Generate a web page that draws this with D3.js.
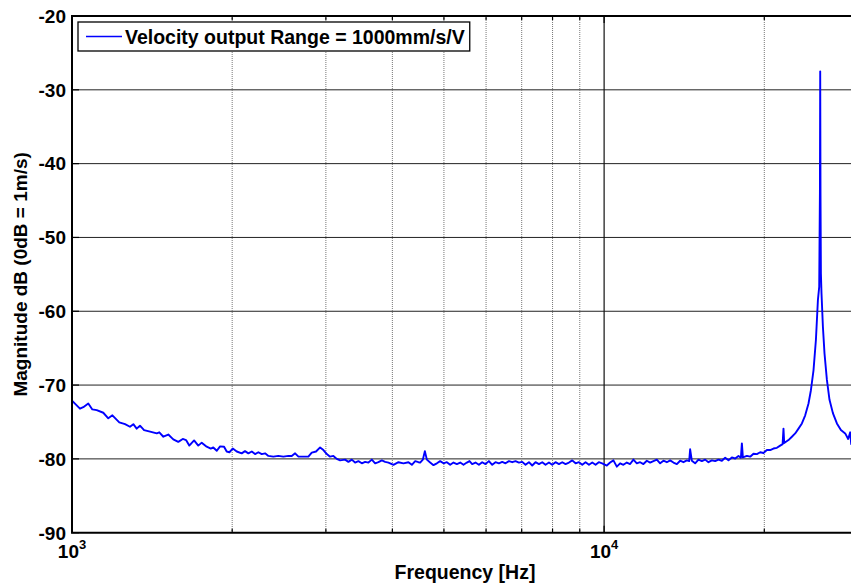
<!DOCTYPE html>
<html>
<head>
<meta charset="utf-8">
<script src="https://cdn.jsdelivr.net/npm/d3@7"></script>
<style>
  body { margin: 0; background: #fff; }
  text { font-family: "Liberation Sans", Arial, sans-serif; font-weight: bold; }
</style>
</head>
<body>
<div id="chart"></div>
<script>
// Data
const freqHz = [
  1000, 1035, 1050, 1073, 1092, 1113, 1145, 1170, 1191, 1227, 1258, 1285, 1304, 1323, 1342, 1366,
  1402, 1443, 1459, 1485, 1517, 1550, 1584, 1615, 1638, 1661, 1696, 1727, 1753, 1791, 1823, 1843,
  1871, 1898, 1931, 1953, 1976, 2005, 2040, 2084, 2114, 2145, 2177, 2208, 2240, 2273, 2306, 2339,
  2390, 2442, 2496, 2551, 2588, 2626, 2664, 2722, 2781, 2822, 2875, 2926, 2968, 3012, 3055, 3099,
  3145, 3190, 3260, 3307, 3356, 3404, 3453, 3505, 3555, 3606, 3660, 3713, 3766, 3822, 3877, 3933,
  4019, 4107, 4197, 4288, 4352, 4415, 4478, 4511, 4564, 4604, 4644, 4711, 4779, 4850, 4919, 4990,
  5064, 5137, 5211, 5288, 5365, 5442, 5522, 5585, 5650, 5732, 5817, 5900, 5985, 6074, 6162, 6250,
  6343, 6434, 6527, 6624, 6719, 6816, 6917, 7016, 7117, 7223, 7326, 7432, 7543, 7651, 7761, 7876,
  7989, 8104, 8225, 8343, 8463, 8589, 8712, 8838, 8968, 9098, 9229, 9366, 9500, 9637, 9773, 9914,
  10118, 10263, 10411, 10565, 10717, 10871, 11032, 11191, 11352, 11520, 11686, 11854, 12030, 12203,
  12378, 12562, 12743, 12927, 13118, 13307, 13498, 13698, 13895, 14095, 14304, 14450, 14510, 14617,
  14827, 15041, 15264, 15484, 15707, 15940, 16169, 16402, 16645, 16885, 17128, 17382, 17632, 17886,
  18073, 18151, 18230, 18548, 18815, 19085, 19368, 19647, 19929, 20225, 20516, 20811, 21119, 21423,
  21650, 21731, 21800, 22207, 22536, 22861, 23190, 23534, 23873, 24216, 24469, 24746, 25004, 25221,
  25364, 25441, 25474, 25507, 25551, 25618, 25773, 25952, 26223, 26520, 26912, 27382, 27860, 28383,
  28750, 29005, 29131, 30000
];
const magDb = [
  -72.1, -73.2, -73.0, -72.5, -73.3, -73.4, -73.75, -74.5, -74.1, -75.05, -75.3, -75.65, -75.3, -75.9, -75.5, -76.1,
  -76.3, -76.55, -76.4, -77.0, -76.7, -77.35, -77.7, -77.3, -77.45, -78.2, -77.5, -78.2, -77.8, -78.35, -78.6, -78.45,
  -78.9, -78.3, -78.35, -79.0, -79.1, -78.6, -79.0, -79.25, -78.95, -79.25, -79.0, -79.35, -79.1, -79.35, -79.25, -79.6,
  -79.7, -79.6, -79.7, -79.6, -79.6, -79.25, -79.7, -79.7, -79.7, -79.15, -79.0, -78.45, -78.8, -79.35, -79.7, -79.6,
  -80.0, -80.2, -80.1, -80.4, -80.1, -80.5, -80.3, -80.6, -80.4, -80.5, -80.1, -80.6, -80.45, -80.2, -80.4, -80.5,
  -80.8, -80.45, -80.6, -80.45, -80.8, -80.3, -80.45, -80.5, -80.1, -78.95, -80.1, -80.5, -80.85, -80.6, -80.3, -80.6,
  -80.45, -80.8, -80.5, -80.7, -80.5, -80.8, -80.5, -80.3, -80.7, -80.5, -80.8, -80.45, -80.7, -80.3, -80.8, -80.45,
  -80.6, -80.4, -80.6, -80.3, -80.45, -80.3, -80.5, -80.4, -80.8, -80.45, -80.9, -80.45, -80.7, -80.45, -80.8, -80.5,
  -80.8, -80.45, -80.7, -80.45, -80.7, -80.5, -80.2, -80.6, -80.45, -80.8, -80.45, -80.8, -80.5, -80.8, -80.45, -80.6,
  -80.9, -80.5, -80.2, -81.05, -80.6, -80.8, -80.5, -80.7, -80.1, -80.6, -80.45, -80.7, -80.25, -80.5,
  -80.3, -80.1, -80.6, -80.25, -80.45, -80.2, -80.5, -80.7, -80.25, -80.45, -80.2, -80.3, -78.7, -80.25,
  -80.6, -80.1, -80.3, -80.1, -80.45, -80.2, -80.3, -80.1, -80.25, -79.85, -80.2, -79.8, -79.95, -79.6,
  -79.85, -77.9, -79.8, -79.6, -79.7, -79.3, -79.35, -79.1, -79.2, -78.8, -78.8, -78.6, -78.5, -78.2,
  -78.0, -75.9, -77.85, -77.45, -77.0, -76.55, -75.9, -75.2, -74.1, -72.5, -70.7, -68.0, -63.9, -58.5,
  -56.7, -44.0, -27.5, -44.0, -54.9, -57.6, -62.1, -65.7, -69.3, -72.0, -73.8, -75.2, -76.1, -76.55,
  -77.3, -76.4, -78.0, -78.3
];
const yTicks = [-90, -80, -70, -60, -50, -40, -30, -20];
const xMajorTicks = [1000, 10000];
const xMinorTicks = [2000, 3000, 4000, 5000, 6000, 7000, 8000, 9000, 20000];
const seriesName = "Velocity output Range = 1000mm/s/V";

const points = freqHz.map((f, i) => ({ f: f, v: magDb[i] }));

// Layout
const W = 851, H = 585;
const plotLeft = 72, plotTop = 16, plotBottom = 532.7, plotRight = 858;

const svg = d3.select("#chart").append("svg")
    .attr("width", W)
    .attr("height", H);

const x = d3.scaleLog().domain([1000, 30000]).range([plotLeft, plotRight]);
const y = d3.scaleLinear().domain([-90, -20]).range([plotBottom, plotTop]);

// Grid
const grid = svg.append("g");
grid.selectAll(".hgrid")
    .data(yTicks.filter(d => d > -90 && d < -20))
    .enter().append("line")
    .attr("x1", plotLeft).attr("x2", plotRight)
    .attr("y1", d => y(d)).attr("y2", d => y(d))
    .style("stroke", "#222")
    .style("stroke-width", 1);

grid.selectAll(".vminor")
    .data(xMinorTicks)
    .enter().append("line")
    .attr("x1", d => x(d)).attr("x2", d => x(d))
    .attr("y1", plotTop).attr("y2", plotBottom)
    .style("stroke", "#777")
    .style("stroke-width", 1)
    .style("stroke-dasharray", "1,1");

grid.selectAll(".vmajor")
    .data(xMajorTicks.filter(d => d > 1000))
    .enter().append("line")
    .attr("x1", d => x(d)).attr("x2", d => x(d))
    .attr("y1", plotTop).attr("y2", plotBottom)
    .style("stroke", "#111")
    .style("stroke-width", 1.2);

// Line
svg.append("clipPath").attr("id", "plotclip")
    .append("rect")
    .attr("x", plotLeft).attr("y", plotTop)
    .attr("width", plotRight - plotLeft).attr("height", plotBottom - plotTop);

const line = d3.line()
    .x(d => x(d.f))
    .y(d => y(d.v));

svg.append("path")
    .datum(points)
    .attr("clip-path", "url(#plotclip)")
    .attr("d", line)
    .style("fill", "none")
    .style("stroke", "#0000ff")
    .style("stroke-width", 1.9)
    .style("stroke-linejoin", "round");

// Ticks (inside)
const ticks = svg.append("g").style("stroke", "#000").style("stroke-width", 1.2);
yTicks.forEach(d => {
    ticks.append("line")
        .attr("x1", plotLeft).attr("x2", plotLeft + 7)
        .attr("y1", y(d)).attr("y2", y(d));
});
xMinorTicks.forEach(d => {
    ticks.append("line").attr("x1", x(d)).attr("x2", x(d)).attr("y1", plotBottom).attr("y2", plotBottom - 4);
    ticks.append("line").attr("x1", x(d)).attr("x2", x(d)).attr("y1", plotTop).attr("y2", plotTop + 4);
});
xMajorTicks.forEach(d => {
    ticks.append("line").attr("x1", x(d)).attr("x2", x(d)).attr("y1", plotBottom).attr("y2", plotBottom - 7);
    ticks.append("line").attr("x1", x(d)).attr("x2", x(d)).attr("y1", plotTop).attr("y2", plotTop + 7);
});

// Axes box
svg.append("path")
    .attr("d", `M${plotRight},${plotTop}H${plotLeft}V${plotBottom}H${plotRight}`)
    .style("fill", "none")
    .style("stroke", "#000")
    .style("stroke-width", 2);

// Tick labels
svg.selectAll(".ylab")
    .data(yTicks)
    .enter().append("text")
    .attr("x", 66)
    .attr("y", d => y(d))
    .attr("dy", "0.36em")
    .attr("text-anchor", "end")
    .style("font-size", "19px")
    .text(d => d);

xMajorTicks.forEach(d => {
    const t = svg.append("text")
        .attr("x", x(d))
        .attr("y", 558)
        .attr("text-anchor", "middle")
        .style("font-size", "19px");
    t.append("tspan").text("10");
    t.append("tspan")
        .attr("dy", -9)
        .style("font-size", "13px")
        .text(Math.round(Math.log10(d)));
});

// Axis labels
svg.append("text")
    .attr("x", 465)
    .attr("y", 579)
    .attr("text-anchor", "middle")
    .style("font-size", "19.5px")
    .text("Frequency [Hz]");

svg.append("text")
    .attr("transform", `translate(27,${(plotTop + plotBottom) / 2}) rotate(-90)`)
    .attr("text-anchor", "middle")
    .style("font-size", "19px")
    .text("Magnitude dB (0dB = 1m/s)");

// Legend
const legend = svg.append("g");
const legRect = legend.append("rect")
    .attr("x", 78).attr("y", 22)
    .attr("height", 29)
    .style("fill", "#fff")
    .style("stroke", "#000")
    .style("stroke-width", 1.3);
legend.append("line")
    .attr("x1", 86).attr("x2", 122)
    .attr("y1", 36.5).attr("y2", 36.5)
    .style("stroke", "#0000ff")
    .style("stroke-width", 1.6);
const legText = legend.append("text")
    .attr("x", 125)
    .attr("y", 43.5)
    .style("font-size", "19.5px")
    .text(seriesName);
legRect.attr("width", 125 + legText.node().getComputedTextLength() + 5 - 78);
</script>
</body>
</html>
